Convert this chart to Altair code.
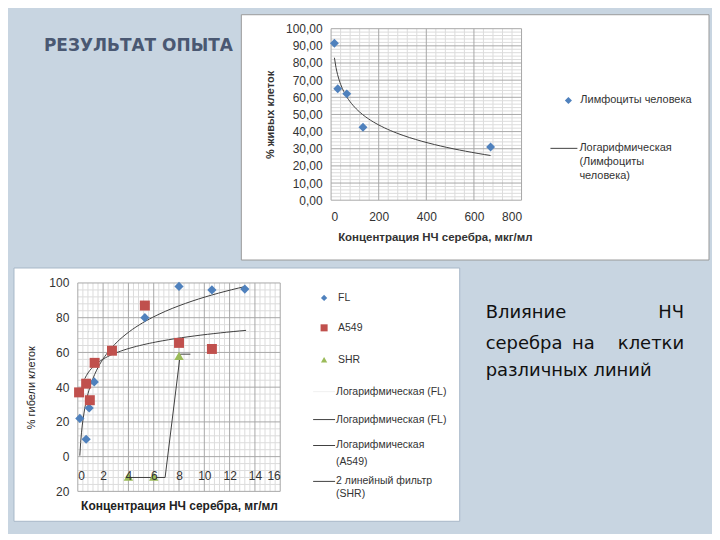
import altair as alt
import pandas as pd

# ---------------- data ----------------
# upper chart: human lymphocytes, % alive cells vs. Ag NP concentration (µg/ml)
lym_conc = [14, 28, 66, 134, 670]
lym_alive = [91.5, 65.0, 62.0, 42.5, 31.0]

# lower chart: % dead cells vs. Ag NP concentration (mg/ml)
fl_conc = [0.16, 0.66, 0.9, 1.3, 5.3, 8.0, 10.6, 13.2]
fl_death = [22, 10, 28, 43, 80, 98, 96, 96.5]
a549_conc = [0.1, 0.66, 0.95, 1.33, 2.7, 5.3, 8.0, 10.6]
a549_death = [37, 42, 32.5, 54, 61, 87, 65.5, 62]
shr_conc = [4, 6, 8]
shr_death = [-11.5, -11.5, 58]
# "2 линейный фильтр (SHR)" line as drawn
shr_filter_conc = [3.9, 6.9, 8.1, 8.9]
shr_filter_death = [-12, -12, 59, 59]

top_x_ticks = [0, 200, 400, 600, 800]
top_y_ticks = list(range(0, 101, 10))
bot_x_ticks = list(range(0, 17, 2))
bot_y_ticks = list(range(-20, 101, 20))

slide_title = "РЕЗУЛЬТАТ ОПЫТА"
top_x_title = "Концентрация НЧ серебра, мкг/мл"
top_y_title = "% живых клеток"
bot_x_title = "Концентрация НЧ серебра, мг/мл"
bot_y_title = "% гибели клеток"
top_legend = ["Лимфоциты человека", "Логарифмическая", "(Лимфоциты", "человека)"]
bot_legend = ["FL", "A549", "SHR", "Логарифмическая (FL)", "Логарифмическая (FL)",
              "Логарифмическая", "(A549)", "2 линейный  фильтр", "(SHR)"]
body_words = ["Влияние", "НЧ", "серебра", "на", "клетки", "различных линий"]

# ---------------- style ----------------
BG = "#c8d5e1"
BLUE = "#4f81bd"
RED = "#c0504d"
GREEN = "#9bbb59"
TREND = "#404040"
GMAJ = "#a8a8a8"
GMIN = "#dcdcdc"
TXT = "#333333"
FONT = "Liberation Sans"

one = pd.DataFrame({"k": [0]})


def txt(s, x, y, size=11, weight="normal", align="left", color=TXT, font=FONT, baseline="middle"):
    return alt.Chart(one).mark_text(text=s, align=align, baseline=baseline, fontSize=size,
                                    fontWeight=weight, color=color, font=font).encode(
        x=alt.value(x), y=alt.value(y))


def panel(x1, x2, y1, y2, stroke):
    return alt.Chart(one).mark_rect(fill="white", stroke=stroke, strokeWidth=1).encode(
        x=alt.value(x1), x2=alt.value(x2), y=alt.value(y1), y2=alt.value(y2))


def hrule(x1, x2, y, color=TREND):
    return alt.Chart(one).mark_rule(color=color, strokeWidth=1).encode(
        x=alt.value(x1), x2=alt.value(x2), y=alt.value(y))


def sym(shape, color, x, y, size):
    return alt.Chart(one).mark_point(shape=shape, filled=True, color=color, size=size, opacity=1).encode(
        x=alt.value(x), y=alt.value(y))


# ================= upper chart =================
W1, H1 = 191, 172
xs1 = alt.Scale(domain=[0, 800], nice=False, zero=False)
ys1 = alt.Scale(domain=[0, 100], nice=False, zero=False)
ax1x = alt.Axis(values=top_x_ticks, grid=False, domain=False, ticks=False, tickSize=0,
                labelFontSize=12, labelPadding=11, labelColor=TXT, labelFont=FONT,
                title=top_x_title, titleFontSize=11.5, titleFontWeight="bold", titleColor=TXT,
                titleFont=FONT, titlePadding=9, titleX=104, zindex=1)
ax1y = alt.Axis(values=top_y_ticks, grid=False, domain=False, ticks=False, tickSize=0,
                labelExpr="replace(format(datum.value, '.2f'), '.', ',')",
                labelFontSize=12, labelPadding=9, labelColor=TXT, labelFont=FONT,
                title=top_y_title, titleFontSize=11, titleFontWeight="bold", titleColor=TXT,
                titleFont=FONT, titlePadding=10, zindex=1)
X1 = alt.X("x:Q", scale=xs1, axis=ax1x)
Y1 = alt.Y("y:Q", scale=ys1, axis=ax1y)

top_df = pd.DataFrame({"x": lym_conc, "y": lym_alive})


def vgrid(vals, color, X):
    return alt.Chart(pd.DataFrame({"x": vals})).mark_rule(color=color, strokeWidth=1).encode(x=X)


def hgrid(vals, color, Y):
    return alt.Chart(pd.DataFrame({"y": vals})).mark_rule(color=color, strokeWidth=1).encode(y=Y)


top_layers = [
    panel(-90, W1 + 188, -14, H1 + 60, "#9a9a9a"),
    vgrid([v for v in range(0, 801, 40) if v % 200], GMIN, X1),
    hgrid([v for v in range(0, 101, 2) if v % 10], GMIN, Y1),
    vgrid(top_x_ticks, GMAJ, X1),
    hgrid(top_y_ticks, GMAJ, Y1),
    alt.Chart(top_df).transform_regression("x", "y", method="log").mark_line(
        color=TREND, strokeWidth=1).encode(x=X1, y=Y1),
    alt.Chart(top_df).mark_point(shape="diamond", filled=True, color=BLUE, size=80, opacity=1).encode(
        x=X1, y=Y1),
    sym("diamond", BLUE, 238, 72, 50),
    txt(top_legend[0], 250, 72),
    hrule(220, 247, 120),
    txt(top_legend[1], 249, 120),
    txt(top_legend[2], 249, 134),
    txt(top_legend[3], 249, 148),
]
top = alt.layer(*top_layers).properties(width=W1, height=H1)

# ================= lower chart =================
W2, H2 = 203, 209
xs2 = alt.Scale(domain=[0, 16], nice=False, zero=False)
ys2 = alt.Scale(domain=[-20, 100], nice=False, zero=False)
ax2x = alt.Axis(values=bot_x_ticks, grid=False, domain=False, ticks=False, tickSize=0, offset=-24,
                labelFontSize=12, labelPadding=3, labelColor=TXT, labelFont=FONT,
                title=bot_x_title, titleFontSize=12, titleFontWeight="bold", titleColor="#222222",
                titleFont=FONT, titlePadding=19, zindex=1)
ax2y = alt.Axis(values=bot_y_ticks, grid=False, domain=False, ticks=False, tickSize=0,
                labelExpr="'' + abs(datum.value)",
                labelFontSize=12, labelPadding=9, labelColor=TXT, labelFont=FONT,
                title=bot_y_title, titleFontSize=11, titleFontWeight="normal", titleColor="#222222",
                titleFont=FONT, titlePadding=12, zindex=1)
X2 = alt.X("x:Q", scale=xs2, axis=ax2x)
Y2 = alt.Y("y:Q", scale=ys2, axis=ax2y)

fl_df = pd.DataFrame({"x": fl_conc, "y": fl_death})
a549_df = pd.DataFrame({"x": a549_conc, "y": a549_death})
shr_df = pd.DataFrame({"x": shr_conc, "y": shr_death})
shr_f_df = pd.DataFrame({"x": shr_filter_conc, "y": shr_filter_death})

bot_layers = [
    panel(-64, W2 + 180, -15, H2 + 30, "#a8b8c8"),
    vgrid([round(i * 0.4, 1) for i in range(41) if i % 5], GMIN, X2),
    hgrid([v for v in range(-20, 101, 4) if v % 20], GMIN, Y2),
    vgrid(bot_x_ticks, GMAJ, X2),
    hgrid(bot_y_ticks, GMAJ, Y2),
    alt.Chart(fl_df).transform_regression("x", "y", method="log").mark_line(
        color=TREND, strokeWidth=1).encode(x=X2, y=Y2),
    alt.Chart(a549_df).transform_regression("x", "y", method="log", extent=[0.55, 13.3]).mark_line(
        color=TREND, strokeWidth=1).encode(x=X2, y=Y2),
    alt.Chart(shr_f_df).mark_line(color=TREND, strokeWidth=1).encode(x=X2, y=Y2),
    alt.Chart(fl_df).mark_point(shape="diamond", filled=True, color=BLUE, size=85, opacity=1).encode(
        x=X2, y=Y2),
    alt.Chart(a549_df).mark_point(shape="square", filled=True, color=RED, size=100, opacity=1).encode(
        x=X2, y=Y2),
    alt.Chart(shr_df).mark_point(shape="triangle-up", filled=True, color=GREEN, size=90, opacity=1).encode(
        x=X2, y=Y2),
    # legend
    sym("diamond", BLUE, 247, 15, 40),
    txt(bot_legend[0], 261, 15, size=10.5),
    sym("square", RED, 247, 45, 50),
    txt(bot_legend[1], 261, 45, size=10.5),
    sym("triangle-up", GREEN, 247, 77, 40),
    txt(bot_legend[2], 261, 77, size=10.5),
    hrule(236, 258, 109, color="#f0f0f0"),
    txt(bot_legend[3], 259, 109, size=10.5),
    hrule(236, 258, 137),
    txt(bot_legend[4], 259, 137, size=10.5),
    hrule(236, 258, 163),
    txt(bot_legend[5], 259, 163, size=10.5),
    txt(bot_legend[6], 259, 180, size=10.5),
    hrule(236, 258, 199),
    txt(bot_legend[7], 259, 199, size=10.5),
    txt(bot_legend[8], 259, 212, size=10.5),
]
bottom = alt.layer(*bot_layers).properties(width=W2, height=H2)

# ================= slide texts =================
spacer_a = alt.layer(
    txt(slide_title, -34, 17, size=17, weight="bold", color="#4a5872", font="DejaVu Sans")
).properties(width=W2, height=H1)

BF = "DejaVu Sans"
BC = "#111111"
spacer_b = alt.layer(
    txt(body_words[0], 155, 35, size=18, color=BC, font=BF, baseline="alphabetic"),
    txt(body_words[1], 354, 35, size=18, color=BC, font=BF, baseline="alphabetic", align="right"),
    txt(body_words[2], 155, 66, size=18, color=BC, font=BF, baseline="alphabetic"),
    txt(body_words[3], 253, 66, size=18, color=BC, font=BF, baseline="alphabetic", align="center"),
    txt(body_words[4], 354, 66, size=18, color=BC, font=BF, baseline="alphabetic", align="right"),
    txt(body_words[5], 155, 93, size=18, color=BC, font=BF, baseline="alphabetic"),
).properties(width=W1, height=H2)

chart = alt.concat(
    spacer_a, top, bottom, spacer_b,
    columns=2, spacing={"row": 83, "column": 51}, bounds="flush", align="each",
).properties(
    padding={"left": 5, "top": 5, "right": 2, "bottom": 11}
).configure(background=BG).configure_view(stroke=None)

chart.save("out.html", embed_options={"renderer": "svg", "actions": False})
